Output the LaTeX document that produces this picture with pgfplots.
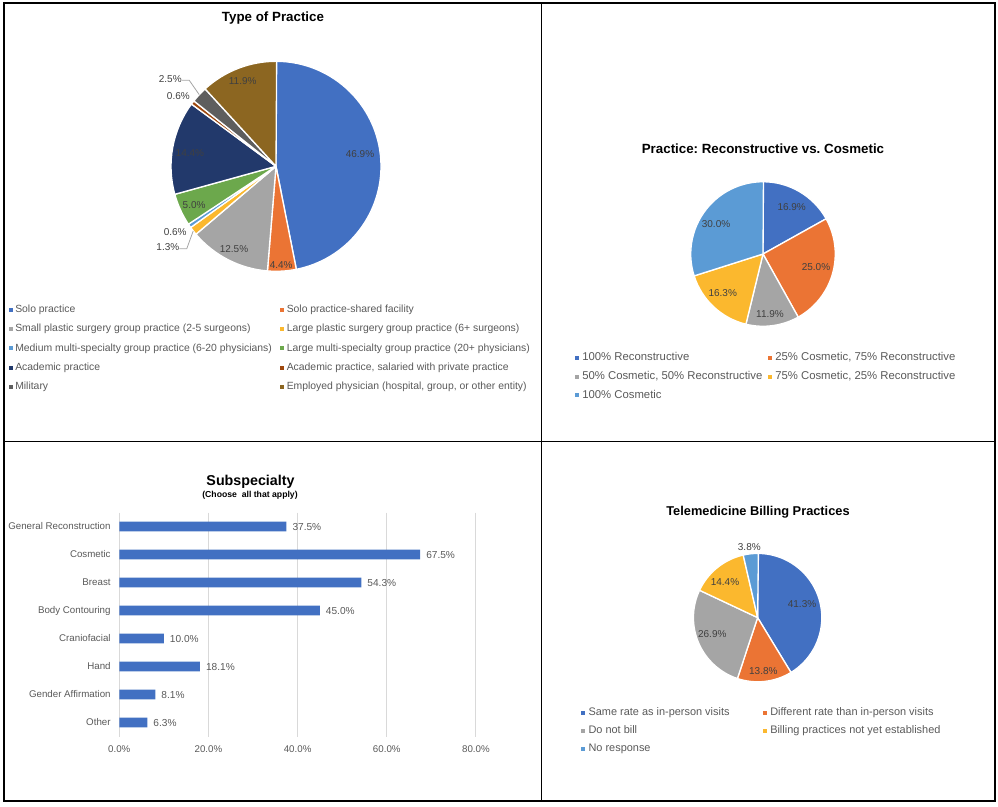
\documentclass[border=0pt]{standalone}
\usepackage{pgfplots}
\pgfplotsset{compat=1.18}
\usepackage{pgfplotstable}
\usepackage{fontspec}
\setmainfont{Liberation Sans}
\frenchspacing

\definecolor{cA}{HTML}{4270C2}
\definecolor{cB}{HTML}{EB7434}
\definecolor{cC}{HTML}{A5A5A5}
\definecolor{cD}{HTML}{FBB82E}
\definecolor{cE}{HTML}{5B9BD5}
\definecolor{cF}{HTML}{6CA84C}
\definecolor{cG}{HTML}{22396B}
\definecolor{cH}{HTML}{9E480E}
\definecolor{cI}{HTML}{5E5E5E}
\definecolor{cJ}{HTML}{8C6621}
\definecolor{lbl}{HTML}{404040}
\definecolor{leg}{HTML}{595959}
\definecolor{grid}{HTML}{D9D9D9}

\pgfplotsset{/pgf/number format/assume math mode=true}

% pie data: value, colour, label position (in radii), leader line
\pgfplotstableread{
val  col lx     ly     ld
46.9 cA  0.80   0.117  0
4.4  cB  0.049 -0.94   0
12.5 cC -0.40  -0.79   0
1.3  cD -1.03  -0.77   1
0.6  cE -0.96  -0.63   0
5.0  cF -0.78  -0.366  0
14.4 cG -0.82   0.123  0
0.6  cH -0.93   0.67   0
2.5  cI -1.007  0.835  1
11.9 cJ -0.317  0.81   0
}\practice

\pgfplotstableread{
val  col lx     ly     ld
16.9 cA  0.397  0.654  0
25.0 cB  0.733 -0.184  0
11.9 cC  0.097 -0.826  0
16.3 cD -0.557 -0.535  0
30.0 cE -0.650  0.411  0
}\recon

\pgfplotstableread{
val  col lx     ly     ld
41.3 cA  0.692  0.212  0
13.8 cB  0.089 -0.827  0
26.9 cC -0.706 -0.255  0
14.4 cD -0.508  0.555  0
3.8  cE -0.129  1.104  0
}\billing

\pgfplotstableread{
idx val
0 37.5
1 67.5
2 54.3
3 45.0
4 10.0
5 18.1
6 8.1
7 6.3
}\subsp

\tikzset{pielbl/.style={text=lbl, inner sep=0pt, font=\fontsize{7.5}{9}\selectfont}}

% #1 table, #2 radius
\newcommand\drawpie[2]{%
  \pgfplotstablegetrowsof{#1}\pgfmathtruncatemacro\nrows{\pgfplotsretval-1}%
  \xdef\cum{0}%
  \foreach \i in {0,...,\nrows}{%
    \pgfplotstablegetelem{\i}{val}\of{#1}\let\v\pgfplotsretval
    \pgfplotstablegetelem{\i}{col}\of{#1}\let\c\pgfplotsretval
    \pgfplotstablegetelem{\i}{lx}\of{#1}\let\lx\pgfplotsretval
    \pgfplotstablegetelem{\i}{ly}\of{#1}\let\ly\pgfplotsretval
    \pgfplotstablegetelem{\i}{ld}\of{#1}\let\ld\pgfplotsretval
    \pgfmathsetmacro\a{90-3.6*\cum}%
    \pgfmathsetmacro\ncum{\cum+\v}\xdef\cum{\ncum}%
    \pgfmathsetmacro\b{90-3.6*\cum}%
    \pgfmathsetmacro\m{(\a+\b)/2}%
    \pgfmathsetmacro\sx{cos(\a)}\pgfmathsetmacro\sy{sin(\a)}%
    \edef\tmp{\noexpand\fill[fill=\c, draw=white, line width=1pt, line join=round]
        (axis cs:0,0) -- (axis cs:\sx,\sy) arc[start angle=\a, end angle=\b, radius=#2] -- cycle;
      \noexpand\node[pielbl] at (axis cs:\lx,\ly) {\v\noexpand\%};}%
    \tmp
    \ifnum\ld=1
      \pgfmathsetmacro\ex{cos(\m)}\pgfmathsetmacro\ey{sin(\m)}%
      \pgfmathsetmacro\ax{\lx+0.11}\pgfmathsetmacro\bx{\lx+0.18}%
      \pgfmathsetmacro\ay{\ly-0.015}%
      \edef\tmp{\noexpand\draw[color=cC, line width=0.6pt] (axis cs:\ax,\ay) -- (axis cs:\bx,\ay) -- (axis cs:\ex,\ey);}%
      \tmp
    \fi
  }%
}

% legend entry: marker x, y, colour, text x, text, size
\newcommand\legitem[6]{%
  \fill[#3] (#1-2,#2-2) rectangle (#1+2,#2+2);
  \node[anchor=base west, inner sep=0pt, text=leg, font=\fontsize{#6}{#6}\selectfont] at (#4,#2+2.7) {#5};
}

\begin{document}
\begin{tikzpicture}[x=0.75pt, y=-0.75pt]
\useasboundingbox (0,0) rectangle (998,806);

% ---------- Type of Practice ----------
\node[font=\fontsize{10}{12}\selectfont\bfseries] at (273,18) {Type of Practice};
\begin{axis}[at={({276*0.75pt},{-166.3*0.75pt})}, anchor=center, hide axis, clip=false,
  x=78.75pt, y=78.75pt, xmin=-1.5, xmax=1.5, ymin=-1.5, ymax=1.5]
  \drawpie{\practice}{78.75pt}
\end{axis}
\legitem{11}{309.7}{cA}{15}{Solo practice}{7.8}
\legitem{11}{329}{cC}{15}{Small plastic surgery group practice (2-5 surgeons)}{7.8}
\legitem{11}{348.4}{cE}{15}{Medium multi-specialty group practice (6-20 physicians)}{7.8}
\legitem{11}{367.8}{cG}{15}{Academic practice}{7.8}
\legitem{11}{387.2}{cI}{15}{Military}{7.8}
\legitem{282}{309.7}{cB}{286.5}{Solo practice-shared facility}{7.8}
\legitem{282}{329}{cD}{286.5}{Large plastic surgery group practice (6+ surgeons)}{7.8}
\legitem{282}{348.4}{cF}{286.5}{Large multi-specialty group practice (20+ physicians)}{7.8}
\legitem{282}{367.8}{cH}{286.5}{Academic practice, salaried with private practice}{7.8}
\legitem{282}{387.2}{cJ}{286.5}{Employed physician (hospital, group, or other entity)}{7.8}

% ---------- Reconstructive vs. Cosmetic ----------
\node[font=\fontsize{10}{12}\selectfont\bfseries] at (763,148.7) {Practice: Reconstructive vs. Cosmetic};
\begin{axis}[at={({763*0.75pt},{-254*0.75pt})}, anchor=center, hide axis, clip=false,
  x=54.2pt, y=54.2pt, xmin=-1.5, xmax=1.5, ymin=-1.5, ymax=1.5]
  \drawpie{\recon}{54.2pt}
\end{axis}
\legitem{577}{358}{cA}{582}{100\% Reconstructive}{8.5}
\legitem{577}{376.5}{cC}{582}{50\% Cosmetic, 50\% Reconstructive}{8.5}
\legitem{577}{395.3}{cE}{582}{100\% Cosmetic}{8.5}
\legitem{769.5}{358}{cB}{775}{25\% Cosmetic, 75\% Reconstructive}{8.5}
\legitem{769.5}{376.5}{cD}{775}{75\% Cosmetic, 25\% Reconstructive}{8.5}

% ---------- Telemedicine Billing Practices ----------
\node[font=\fontsize{9.6}{12}\selectfont\bfseries] at (758,512.3) {Telemedicine Billing Practices};
\begin{axis}[at={({757.6*0.75pt},{-617.6*0.75pt})}, anchor=center, hide axis, clip=false,
  x=48.15pt, y=48.15pt, xmin=-1.5, xmax=1.5, ymin=-1.5, ymax=1.5]
  \drawpie{\billing}{48.15pt}
\end{axis}
\legitem{583}{713}{cA}{588.3}{Same rate as in-person visits}{8.2}
\legitem{583}{730.5}{cC}{588.3}{Do not bill}{8.2}
\legitem{583}{749}{cE}{588.3}{No response}{8.2}
\legitem{764.5}{713}{cB}{770}{Different rate than in-person visits}{8.2}
\legitem{764.5}{730.5}{cD}{770}{Billing practices not yet established}{8.2}

% ---------- Subspecialty ----------
\node[font=\fontsize{10.7}{12}\selectfont\bfseries] at (250.5,481.7) {Subspecialty};
\node[font=\fontsize{6.5}{8}\selectfont\bfseries] at (250,495.7) {(Choose\ \ all that apply)};
\begin{axis}[at={({119.3*0.75pt},{-736.5*0.75pt})}, anchor=south west, scale only axis,
  width=267.5pt, height=168pt,
  xbar, bar width=7.3pt,
  xmin=0, xmax=80, ymin=-0.5, ymax=7.5, y dir=reverse,
  xtick={0,20,40,60,80},
  xticklabel={\pgfmathprintnumber[fixed,fixed zerofill,precision=1]{\tick}\%},
  ytick={0,...,7},
  yticklabels={General Reconstruction,Cosmetic,Breast,Body Contouring,Craniofacial,Hand,Gender Affirmation,Other},
  xmajorgrids, grid style={draw=grid, line width=0.75pt},
  axis line style={draw=none}, major tick length=0pt,
  tick label style={text=leg, font=\fontsize{7.3}{9}\selectfont},
  xticklabel style={yshift=-3pt},
  yticklabel style={xshift=-3pt},
  point meta=x,
  nodes near coords={\pgfmathprintnumber[fixed,fixed zerofill,precision=1]{\pgfplotspointmeta}\%},
  nodes near coords style={text=leg, font=\fontsize{7.6}{9}\selectfont, xshift=1pt},
  ]
  \addplot[fill=cA, draw=none] table[x=val, y=idx] {\subsp};
\end{axis}

% ---------- frame ----------
\draw[line width=1.5pt] (4,3) rectangle (994.7,801.3);
\draw[line width=1pt] (541.7,3) -- (541.7,801.3);
\draw[line width=1pt] (4,441.3) -- (994.7,441.3);
\end{tikzpicture}
\end{document}
